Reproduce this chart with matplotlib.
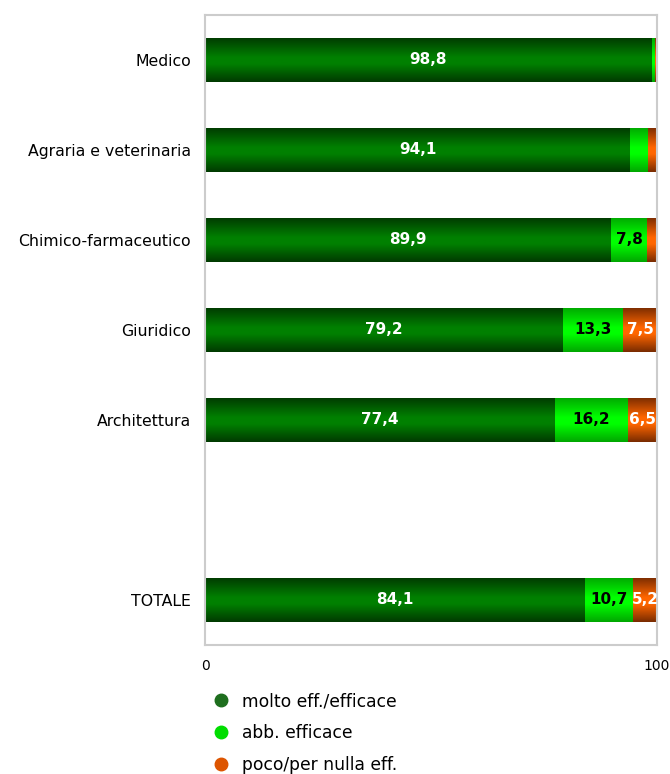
import numpy as np
import matplotlib
matplotlib.use("Agg")
import matplotlib.pyplot as plt
from matplotlib.colors import LinearSegmentedColormap
from matplotlib.lines import Line2D

categories = ['Medico', 'Agraria e veterinaria', 'Chimico-farmaceutico',
              'Giuridico', 'Architettura', '', 'TOTALE']
molto = [98.8, 94.1, 89.9, 79.2, 77.4, 0, 84.1]
abb = [0.8, 3.8, 7.8, 13.3, 16.2, 0, 10.7]
poco = [0.4, 2.1, 2.3, 7.5, 6.5, 0, 5.2]
series_names = ['molto eff./efficace', 'abb. efficace', 'poco/per nulla eff.']

# (edge colour, centre colour, label colour)
styles = [('#003a00', '#008000', 'white'),
          ('#00a800', '#00ff00', 'black'),
          ('#7a2c00', '#ff6600', 'white')]
min_label = 5

fig = plt.figure(figsize=(6.7, 7.74), dpi=100)
ax = fig.add_axes([205/670, 1 - 645/774, 452/670, 630/774])

y = np.arange(len(categories))
left = np.zeros(len(categories))
grad = np.linspace(0, 1, 64).reshape(-1, 1)

for vals, (edge, mid, tcol) in zip([molto, abb, poco], styles):
    vals = np.array(vals)
    bars = ax.barh(y, vals, left=left, height=0.49, color=mid, linewidth=0)
    cmap = LinearSegmentedColormap.from_list(
        'g', [(0, edge), (0.45, mid), (0.6, mid), (1, edge)])
    for bar, v in zip(bars, vals):
        if v <= 0:
            continue
        x0, y0 = bar.get_x(), bar.get_y()
        w, h = bar.get_width(), bar.get_height()
        im = ax.imshow(grad, cmap=cmap, aspect='auto',
                       extent=(x0, x0 + w, y0 + h, y0), zorder=2)
        im.set_clip_path(bar)
        if v >= min_label:
            ax.text(x0 + w / 2, y0 + h / 2, f'{v:.1f}'.replace('.', ','),
                    ha='center', va='center', color=tcol,
                    fontsize=11, fontweight='bold', zorder=3)
    left += vals

ax.set_xlim(0, 100)
ax.set_ylim(len(categories) - 0.5, -0.5)
ax.set_yticks(y)
ax.set_yticklabels(categories, fontsize=11.3)
ax.set_xticks([0, 100])
ax.set_xticklabels(['0', '100'], fontsize=10)
ax.tick_params(length=0)
ax.tick_params(axis='y', pad=10)
ax.tick_params(axis='x', pad=10)
for s in ax.spines.values():
    s.set_color('#cccccc')
    s.set_linewidth(1.5)

handles = [Line2D([], [], marker='o', linestyle='none', markersize=9,
                  markerfacecolor=c, markeredgecolor=c)
           for c in ['#1e6e1e', '#00dd00', '#dd5500']]
fig.legend(handles, series_names, loc='upper left',
           bbox_to_anchor=(212/670, 1 - 692/774), frameon=False,
           fontsize=12.3, labelspacing=0.82, handletextpad=0.75,
           handlelength=1.0, borderaxespad=0, borderpad=0)

fig.savefig('out.png', dpi=100)
